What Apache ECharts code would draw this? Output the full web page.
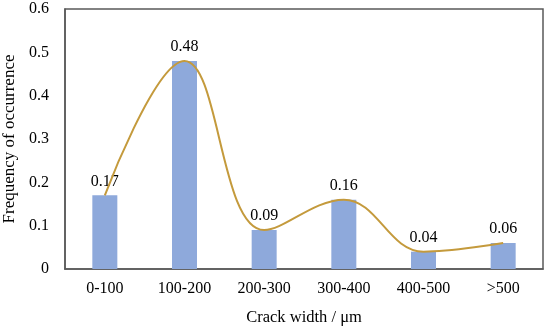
<!DOCTYPE html>
<html>
<head>
<meta charset="utf-8">
<script src="https://cdn.jsdelivr.net/npm/echarts@6/dist/echarts.min.js"></script>
<style>html,body{margin:0;padding:0;background:#fff}#c{width:550px;height:330px}</style>
</head>
<body>
<div id="c"></div>
<script>
var categories = ['0-100', '100-200', '200-300', '300-400', '400-500', '>500'];
var frequency = [0.17, 0.48, 0.09, 0.16, 0.04, 0.06];
var yTicks = { min: 0, max: 0.6, interval: 0.1 };

var font = '"Liberation Serif", "Times New Roman", serif';
var chart = echarts.init(document.getElementById('c'));
chart.setOption({
  animation: false,
  backgroundColor: '#fff',
  grid: { left: 65, right: 7, top: 9, bottom: 61, containLabel: false, outerBoundsMode: 'none',
    show: true, borderColor: '#595959', borderWidth: 1.5, backgroundColor: 'transparent' },
  xAxis: {
    type: 'category',
    data: categories,
    name: 'Crack width / μm',
    nameLocation: 'middle',
    nameGap: 40,
    nameTextStyle: { fontFamily: font, fontSize: 16.5, color: '#000' },
    axisLine: { lineStyle: { color: '#595959', width: 1.5 } },
    axisTick: { show: false },
    axisLabel: { fontFamily: font, fontSize: 16, color: '#000', margin: 12 }
  },
  yAxis: {
    type: 'value',
    min: yTicks.min, max: yTicks.max, interval: yTicks.interval,
    name: 'Frequency of occurrence',
    nameLocation: 'middle',
    nameGap: 47,
    nameTextStyle: { fontFamily: font, fontSize: 17, color: '#000' },
    axisLine: { show: true, lineStyle: { color: '#595959', width: 1.5 } },
    axisTick: { show: false },
    splitLine: { show: false },
    axisLabel: { fontFamily: font, fontSize: 16, color: '#000', margin: 16,
      formatter: function (v) { return v === 0 ? '0' : v.toFixed(1); } }
  },
  series: [
    {
      type: 'bar',
      data: frequency,
      barWidth: 25,
      itemStyle: { color: '#8EA9DB' },
      label: { show: true, position: 'top', distance: 6, fontFamily: font, fontSize: 16, color: '#000',
        formatter: function (p) { return p.value.toFixed(2); } }
    },
    {
      type: 'line',
      data: frequency,
      smooth: 0.4,
      symbol: 'none',
      lineStyle: { color: '#C49A3C', width: 2 },
      z: 3
    }
  ]
});
</script>
</body>
</html>
